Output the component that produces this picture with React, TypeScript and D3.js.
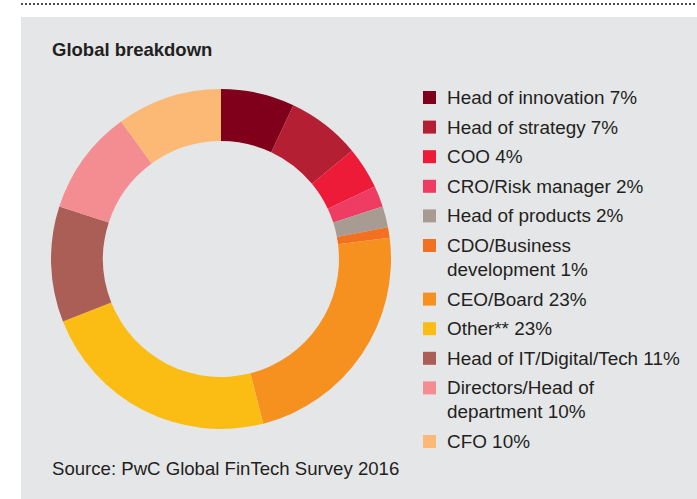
import React from "react";
import * as d3 from "d3";

const categories = [
  "Head of innovation",
  "Head of strategy",
  "COO",
  "CRO/Risk manager",
  "Head of products",
  "CDO/Business development",
  "CEO/Board",
  "Other**",
  "Head of IT/Digital/Tech",
  "Directors/Head of department",
  "CFO",
];
const values = [7, 7, 4, 2, 2, 1, 23, 23, 11, 10, 10];
const legendLines = [
  ["Head of innovation 7%"],
  ["Head of strategy 7%"],
  ["COO 4%"],
  ["CRO/Risk manager 2%"],
  ["Head of products 2%"],
  ["CDO/Business", "development 1%"],
  ["CEO/Board 23%"],
  ["Other** 23%"],
  ["Head of IT/Digital/Tech 11%"],
  ["Directors/Head of", "department 10%"],
  ["CFO 10%"],
];
const colors = [
  "#80001b",
  "#b51f34",
  "#ed1b37",
  "#ef3c62",
  "#a89c92",
  "#f37021",
  "#f69120",
  "#fbbd13",
  "#aa5e56",
  "#f48d91",
  "#fbb975",
];
const title = "Global breakdown";
const source = "Source: PwC Global FinTech Survey 2016";

export default function App() {
  const W = 697, H = 499;
  const cx = 221, cy = 259, R = 170, r = 118;
  const pie = d3.pie<number>().sort(null).value((d) => d)(values);
  const arc = d3.arc<d3.PieArcDatum<number>>().innerRadius(r).outerRadius(R);
  const font = "'Liberation Sans', Arial, Helvetica, sans-serif";
  const textColor = "#231f20";

  let y = 104;
  const legendItems = legendLines.map((lines, i) => {
    const item = { lines, y, i };
    y += 29.6 + (lines.length - 1) * 24;
    return item;
  });

  return (
    <svg width={W} height={H} style={{ position: "absolute", left: 0, top: 0 }} fontFamily={font}>
      <rect x={0} y={0} width={W} height={H} fill="#ffffff" />
      <line x1={21} x2={W} y1={4} y2={4} stroke="#4d4d4f" strokeWidth={2} strokeDasharray="2,2" />
      <rect x={21} y={17} width={W - 21} height={H - 17} fill="#e5e6e8" />
      <text x={52} y={56} fontSize={18.5} fontWeight="bold" fill={textColor}>{title}</text>
      <g transform={`translate(${cx},${cy})`}>
        {pie.map((p, i) => (
          <path key={categories[i]} d={arc(p) || ""} fill={colors[i]} />
        ))}
      </g>
      {legendItems.map(({ lines, y, i }) => (
        <g key={categories[i]}>
          <rect x={423} y={y - 13} width={13} height={13} fill={colors[i]} />
          {lines.map((l, k) => (
            <text key={k} x={447} y={y + k * 24} fontSize={18.9} fill={textColor}>{l}</text>
          ))}
        </g>
      ))}
      <text x={52} y={475} fontSize={18.6} fill={textColor}>{source}</text>
    </svg>
  );
}
